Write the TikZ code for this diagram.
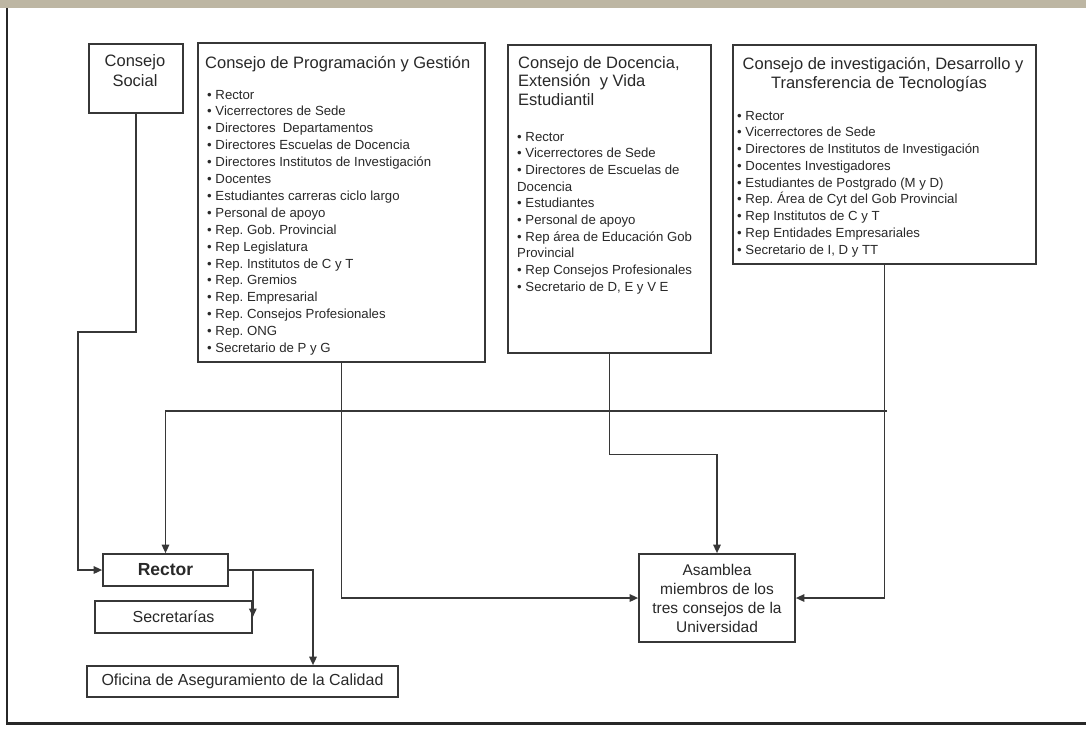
\documentclass[tikz,border=0pt]{standalone}
\usepackage{fontspec}
\setmainfont{Liberation Sans}
\frenchspacing
\usetikzlibrary{arrows.meta}
\definecolor{trazo}{RGB}{55,55,55}
\definecolor{letra}{RGB}{40,40,40}
\definecolor{banda}{RGB}{189,182,163}
\tikzset{
  caja/.style={draw=trazo, line width=1.7pt, inner sep=0pt, text=letra},
  titulo/.style={text=letra, inner sep=0pt, font=\fontsize{16.5}{20}\selectfont},
  item/.style={text=letra, inner sep=0pt, anchor=base west, font=\fontsize{13.2}{17}\selectfont},
  flecha/.style={draw=trazo, line width=1.5pt, -{Triangle[length=8.5pt,width=7.5pt]}},
}
\newcommand{\pto}{\textbullet\ }
\begin{document}
\begin{tikzpicture}[x=1pt,y=-1pt]
   \useasboundingbox (0,0) rectangle (1086,729);
   \fill[banda] (0,0) rectangle (1086,8); %banda superior
   \draw[trazo!70!black, line width=2pt] (7,8) -- (7,723); %marco izq
   \draw[trazo!70!black, line width=3pt] (6,723) -- (1086,723); %marco abajo

   % consejos
   \node[caja, anchor=north west, minimum width=94, minimum height=69] (social) at (88,43) {};
   \node[caja, anchor=north west, minimum width=287, minimum height=319] (prog) at (197,42) {};
   \node[caja, anchor=north west, minimum width=203, minimum height=308] (doc) at (507,44) {};
   \node[caja, anchor=north west, minimum width=303, minimum height=219] (inv) at (732,44) {};

   \node[titulo, align=center] (socialtit) at (135,71) {Consejo\\Social};

   \node[titulo, anchor=base west] (progtit) at (205,68) {Consejo de Programación y Gestión};
   \foreach \txt [count=\i from 0] in {Rector, Vicerrectores de Sede, Directores\ \ Departamentos,
      Directores Escuelas de Docencia, Directores Institutos de Investigación, Docentes,
      Estudiantes carreras ciclo largo, Personal de apoyo, Rep. Gob. Provincial, Rep Legislatura,
      Rep. Institutos de C y T, Rep. Gremios, Rep. Empresarial, Rep. Consejos Profesionales,
      Rep. ONG, Secretario de P y G}
      \node[item] (prog\i) at (207,{99+16.9*\i}) {\pto\txt};

   \foreach \txt [count=\i from 0] in {{Consejo de Docencia,}, {Extensión\ \ y Vida}, Estudiantil}
      \node[titulo, anchor=base west] (doctit\i) at (518,{68+18.5*\i}) {\txt};
   \foreach \txt [count=\i from 0] in {\pto Rector, \pto Vicerrectores de Sede,
      \pto Directores de Escuelas de, Docencia, \pto Estudiantes, \pto Personal de apoyo,
      \pto Rep área de Educación Gob, Provincial, \pto Rep Consejos Profesionales,
      {\pto Secretario de D, E y V E}}
      \node[item] (doc\i) at (517,{141+16.7*\i}) {\txt};

   \node[titulo, anchor=base] (invtit0) at (883,69) {Consejo de investigación, Desarrollo y};
   \node[titulo, anchor=base] (invtit1) at (879,88) {Transferencia de Tecnologías};
   \foreach \txt [count=\i from 0] in {Rector, Vicerrectores de Sede,
      Directores de Institutos de Investigación, Docentes Investigadores,
      Estudiantes de Postgrado (M y D), Rep. Área de Cyt del Gob Provincial,
      Rep Institutos de C y T, Rep Entidades Empresariales, {Secretario de I, D y TT}}
      \node[item] (inv\i) at (737,{120+16.75*\i}) {\pto\txt};

   % abajo
   \node[caja, minimum width=125, minimum height=32, font=\bfseries\fontsize{17.5}{20}\selectfont] (rector) at (165.5,570) {Rector};
   \node[caja, minimum width=157, minimum height=32, font=\fontsize{16}{19}\selectfont] (secre) at (173.5,617) {Secretarías};
   \node[caja, minimum width=311, minimum height=31, font=\fontsize{16}{19}\selectfont] (oficina) at (242.5,681.5) {Oficina de Aseguramiento de la Calidad};
   \node[caja, minimum width=156, minimum height=88, align=center, font=\fontsize{15.5}{19}\selectfont] (asam) at (717,598) {Asamblea\\miembros de los\\tres consejos de la\\Universidad};

   % conexiones
   \coordinate (codo) at (78,332);
   \coordinate (enlace) at (887,411);
   \draw[flecha] (social.south) |- (codo) |- (rector.west);
   \draw[flecha] (enlace) -| (rector.north);
   \draw[flecha] (prog.south) |- (asam.west);
   \draw[flecha] (doc.south) -- ++(0,101) -| (asam.north);
   \draw[flecha] (inv.south) |- (asam.east);
   \draw[flecha] (rector.east) -| ([xshift=70.5pt]oficina.north);
   \draw[flecha] (rector.east -| secre.east) -- (secre.east);
\end{tikzpicture}
\end{document}
